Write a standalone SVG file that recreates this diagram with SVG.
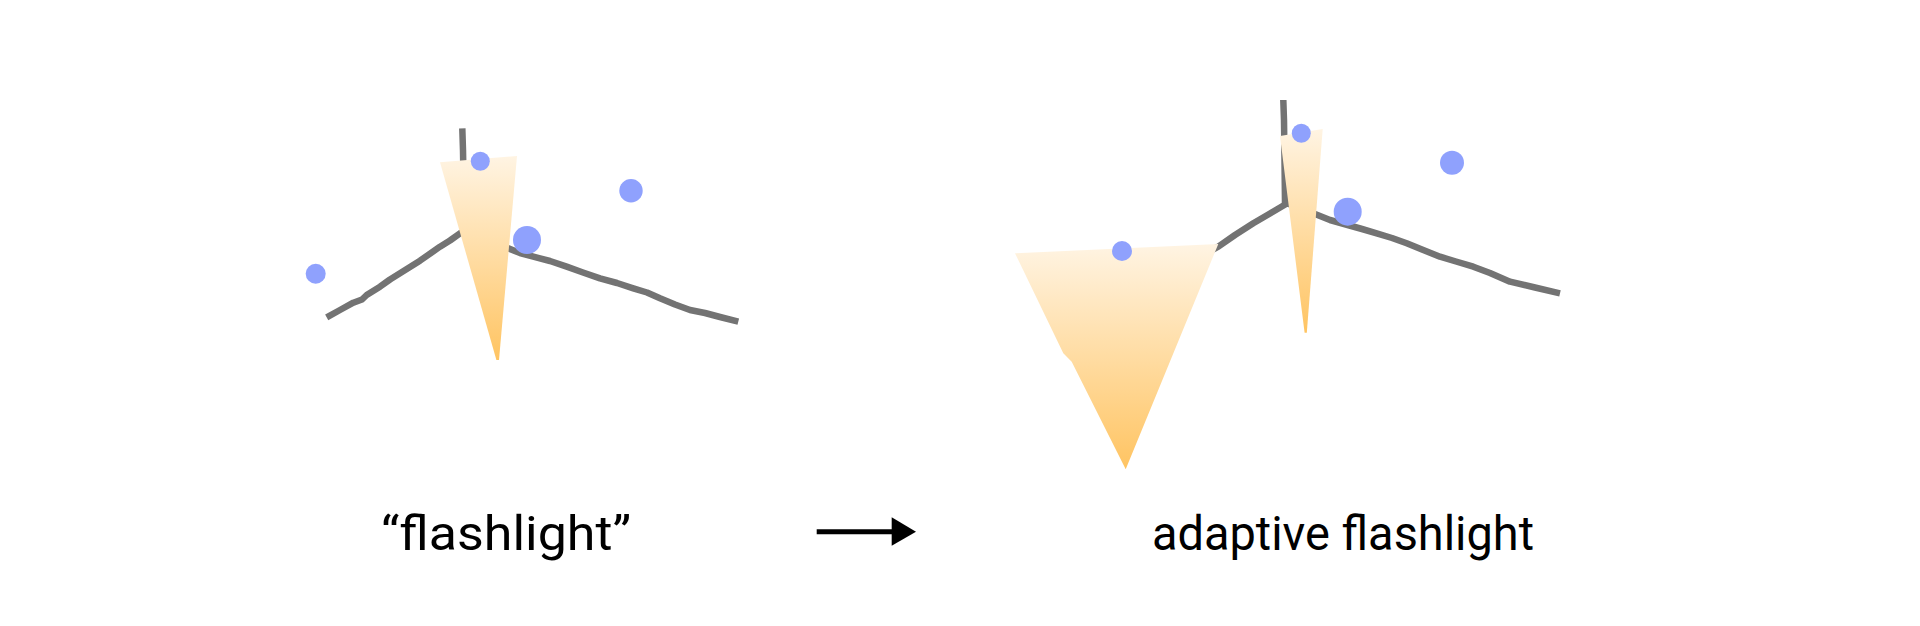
<svg xmlns="http://www.w3.org/2000/svg" width="1920" height="626" viewBox="0 0 1920 626">
<style>
.wire{fill:none;stroke:#737373;stroke-width:6.5;stroke-linejoin:round;stroke-linecap:butt}
.cone{fill:url(#beam)}
.pt{fill:#8fa1fd}
.lbl{font-family:Roboto,"Liberation Sans",sans-serif;font-size:48px;fill:#000}
</style>
<defs>
<linearGradient id="beam" x1="0" y1="0" x2="0" y2="1">
<stop offset="0" stop-color="#fff4e3"/>
<stop offset="1" stop-color="#ffc462"/>
</linearGradient>
</defs>
<rect width="1920" height="626" fill="#fff"/>
<g id="connectors">
<path id="arrow-line" d="M816.7 531.7 H893" stroke="#000" stroke-width="5" fill="none"/>
<polygon id="arrow-head" points="891.7,517.3 916,531.7 891.7,545.7" fill="#000"/>
</g>
<g id="left-scene">
<path class="wire" d="M462.3 128.3 L463 150 L463.5 180 L465 231"/>
<path class="wire" d="M326.7 317.3 L340 310 L353.3 302.7 L362 299.5 L366.7 295 L380 286.7 L390 279.5 L400 273.3 L420 260.7 L440 246.7 L450 240.5 L460 233.3 L465 231 L485 240 L508.3 248.3 L520 253 L533.3 256.7 L550 261 L566.7 266.7 L583 272.5 L600 278.3 L617 283 L633.3 288.3 L647 292.5 L660 298.3 L675 304.5 L690 310 L705 313 L720 317 L738.3 321.7"/>
<polygon class="cone" points="440,162.3 517,156 499,360 496.4,360"/>
<circle class="pt" cx="480.3" cy="161.3" r="9.5"/>
<circle class="pt" cx="527" cy="240" r="14"/>
<circle class="pt" cx="631" cy="190.7" r="11.7"/>
<circle class="pt" cx="315.7" cy="273.7" r="10"/>
</g>
<g id="right-scene">
<path class="wire" d="M1283.3 100 L1284 120 L1284.5 160 L1285 203.3"/>
<path class="wire" d="M1212 250 L1218.3 246.7 L1235 235 L1253.3 223.3 L1270 213.5 L1287.3 203.3 L1300 208.5 L1315 214 L1330 220 L1347.7 225 L1362 229 L1376.7 233.3 L1392 238 L1406.7 243.3 L1422 249.5 L1440 256.7 L1456 261.5 L1473.3 266.7 L1490 273 L1510 281.7 L1535 287.5 L1560 293.3"/>
<polygon class="cone" points="1015,253.3 1063.3,353.3 1071.7,361.7 1125.7,469.3 1218.3,244"/>
<polygon class="cone" points="1280,136 1322.7,129 1306.8,332.7 1304.6,332.7"/>
<circle class="pt" cx="1122" cy="251" r="10"/>
<circle class="pt" cx="1301.3" cy="133.3" r="9.5"/>
<circle class="pt" cx="1347.7" cy="211.7" r="14"/>
<circle class="pt" cx="1452" cy="162.7" r="12"/>
</g>
<g id="labels">
<text id="label-left" class="lbl" x="381" y="550" textLength="250" lengthAdjust="spacingAndGlyphs">“flashlight”</text>
<text id="label-right" class="lbl" x="1152" y="550" textLength="382" lengthAdjust="spacingAndGlyphs">adaptive flashlight</text>
</g>
</svg>
